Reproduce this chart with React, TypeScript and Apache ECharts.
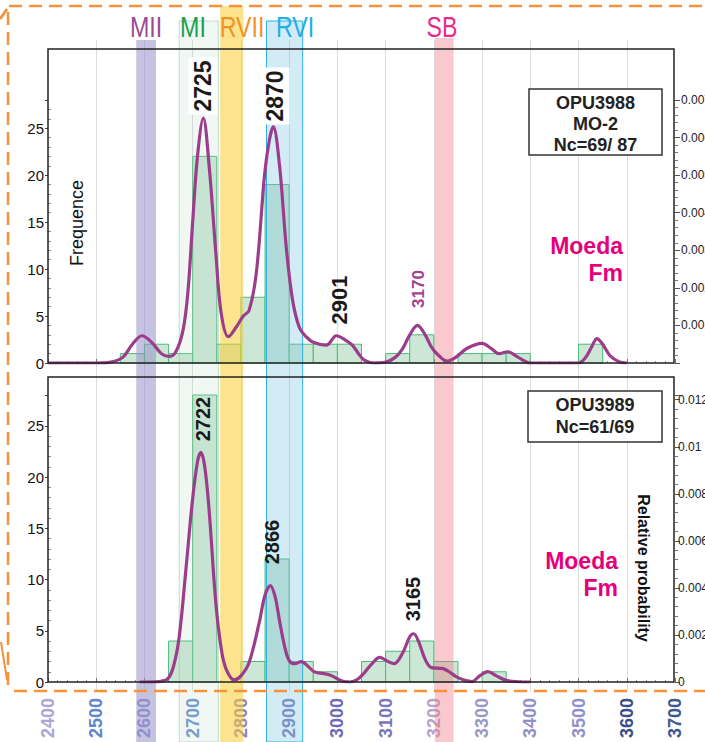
import React, { useEffect, useRef } from 'react';
import * as echarts from 'echarts';

const FONT = '"Liberation Sans", Arial, Helvetica, sans-serif';

// ---------- data ----------
const ageTicks = [2400, 2500, 2600, 2700, 2800, 2900, 3000, 3100, 3200, 3300, 3400, 3500, 3600, 3700];
const tickLabelColors = ['#aaa6d5', '#5b88cb', '#8f8fcc', '#6d93d0', '#8c82c4', '#7b79c0', '#6d6bb8', '#7977bc', '#b6a3cc', '#9a99c4', '#9290c6', '#8e92cc', '#3a4e88', '#3d5a8e'];

const BIN_WIDTH = 50;
const topBinStarts = [2550, 2600, 2650, 2700, 2750, 2800, 2850, 2900, 2950, 3000, 3100, 3150, 3250, 3300, 3350, 3500];
const topBinCounts = [1, 2, 1, 22, 2, 7, 19, 2, 2, 2, 1, 3, 1, 1, 1, 2];
const bottomBinStarts = [2650, 2700, 2800, 2850, 2900, 2950, 3050, 3100, 3150, 3200, 3300];
const bottomBinCounts = [4, 28, 2, 12, 2, 1, 2, 3, 4, 2, 1];

const topCurveAges = [2400, 2500, 2530, 2555, 2575, 2595, 2615, 2635, 2650, 2665, 2680, 2690, 2700, 2710, 2722, 2734, 2748, 2759, 2774, 2790, 2805, 2817, 2832, 2849, 2859, 2867, 2880, 2894, 2907, 2921, 2935, 2950, 2977, 2998, 3015, 3031, 3045, 3056, 3075, 3100, 3120, 3135, 3150, 3166, 3182, 3195, 3210, 3227, 3245, 3270, 3300, 3320, 3335, 3353, 3375, 3400, 3500, 3515, 3528, 3538, 3550, 3565, 3585, 3600];
const topCurveProb = [0, 0, 0.000025, 0.00015, 0.0005, 0.000725, 0.00055, 0.00025, 0.000175, 0.0003, 0.000875, 0.00188, 0.00376, 0.00551, 0.006515, 0.00526, 0.00293, 0.00133, 0.0007, 0.00095, 0.00125, 0.0014, 0.002405, 0.00501, 0.005935, 0.00629, 0.00526, 0.00308, 0.00168, 0.00095, 0.0007, 0.00055, 0.000475, 0.000725, 0.000625, 0.000475, 0.000225, 0.000075, 0, 0.000025, 0.00015, 0.000375, 0.00075, 0.001, 0.00075, 0.000425, 0.0002, 0.00005, 0.00015, 0.0004, 0.000525, 0.000375, 0.00025, 0.0003, 0.00015, 0, 0, 0.00015, 0.00045, 0.00065, 0.0005, 0.0002, 0.000025, 0];

const bottomCurveAges = [2590, 2630, 2648, 2660, 2672, 2686, 2699, 2710, 2717, 2725, 2734, 2748, 2760, 2770, 2786, 2800, 2817, 2838, 2850, 2861, 2871, 2880, 2890, 2900, 2912, 2925, 2940, 2952, 2984, 3010, 3025, 3040, 3052, 3070, 3088, 3105, 3118, 3135, 3150, 3158, 3168, 3182, 3195, 3219, 3235, 3247, 3265, 3279, 3295, 3312, 3330, 3350, 3375, 3400];
const bottomCurveProb = [0, 0.00002, 0.00013, 0.00065, 0.00192, 0.00479, 0.00762, 0.00937, 0.00976, 0.00915, 0.00732, 0.00335, 0.00131, 0.00052, 0.00009, 0.00026, 0.00083, 0.00253, 0.0037, 0.0041, 0.00362, 0.00261, 0.00157, 0.00091, 0.00078, 0.00087, 0.00065, 0.00044, 0.0003, 0.00004, 0, 0.00009, 0.0003, 0.00074, 0.00105, 0.00087, 0.00078, 0.00122, 0.00192, 0.00205, 0.00174, 0.00096, 0.00061, 0.00057, 0.00039, 0.00022, 0.00007, 0.00002, 0.00026, 0.00044, 0.00026, 0.00007, 0.00001, 0];

const bandNames = ['MII', 'MI', 'RVII', 'RVI', 'SB'];
const bandStart = [2583, 2672, 2757, 2853, 3202];
const bandEnd = [2624, 2753, 2805, 2928, 3241];

const topPeakLabels = ['2725', '2870', '2901', '3170'];
const bottomPeakLabels = ['2722', '2866', '3165'];

// ---------- styles ----------
const bandStyles: Record<string, any> = {
  MII: { top: 40, fill: 'rgba(150,145,200,0.55)', stroke: null, text: '#9b4b96', tx: 146 },
  MI: { top: 21, fill: 'rgba(170,215,190,0.17)', stroke: 'rgba(130,200,160,0.55)', text: '#1aa050', tx: 193 },
  RVII: { top: 6, fill: 'rgba(250,205,50,0.55)', stroke: null, text: '#f39222', tx: 242 },
  RVI: { top: 21, fill: 'rgba(120,195,225,0.33)', stroke: '#2aaee4', text: '#22aee6', tx: 295 },
  SB: { top: 38, fill: 'rgba(240,120,130,0.4)', stroke: null, text: '#ea2a8a', tx: 442 },
};

const peakLabelLayout: Record<string, any> = {
  '2725': { x: 203, y: 86, size: 23, bg: true, color: '#1a1a1a' },
  '2870': { x: 275, y: 96, size: 23, bg: true, color: '#1a1a1a' },
  '2901': { x: 339, y: 300, size: 22, bg: false, color: '#1a1a1a' },
  '3170': { x: 418, y: 289, size: 17, bg: false, color: '#a3418f' },
  '2722': { x: 203, y: 419, size: 20, bg: false, color: '#1a1a1a' },
  '2866': { x: 272, y: 542, size: 20, bg: false, color: '#1a1a1a' },
  '3165': { x: 413, y: 599, size: 20, bg: false, color: '#1a1a1a' },
};

const CURVE_COLOR = '#9c3d8c';
const BAR_FILL = '#cde7d6';
const BAR_STROKE = '#4cbb7b';
const ORANGE = '#f7923a';

function histSeries(starts: number[], counts: number[], xi: number, yi: number) {
  return {
    type: 'custom',
    xAxisIndex: xi,
    yAxisIndex: yi,
    z: 2,
    silent: true,
    data: starts.map((s, i) => [s, s + BIN_WIDTH, counts[i]]),
    encode: { x: [0, 1], y: 2 },
    renderItem: (params: any, api: any) => {
      const p0 = api.coord([api.value(0), 0]);
      const p1 = api.coord([api.value(1), api.value(2)]);
      return {
        type: 'rect',
        shape: { x: p0[0], y: p1[1], width: p1[0] - p0[0], height: p0[1] - p1[1] },
        style: { fill: BAR_FILL, stroke: BAR_STROKE, lineWidth: 1 },
      };
    },
  };
}

function curveSeries(ages: number[], probs: number[], xi: number, yi: number) {
  return {
    type: 'line',
    xAxisIndex: xi,
    yAxisIndex: yi,
    z: 5,
    silent: true,
    smooth: 0.35,
    showSymbol: false,
    symbol: 'none',
    data: ages.map((a, i) => [a, probs[i]]),
    lineStyle: { color: CURVE_COLOR, width: 3.2 },
  };
}

const xTickAxis = (gridIndex: number) => ({
  type: 'value',
  gridIndex,
  min: 2400,
  max: 3700,
  interval: 100,
  axisLine: { show: false },
  axisTick: { show: true, inside: true, length: 4, lineStyle: { color: '#777' } },
  minorTick: { show: true, splitNumber: 5, length: 2, lineStyle: { color: '#999' } },
  axisLabel: { show: false },
  splitLine: { show: false },
});

const leftCountAxis = (gridIndex: number) => ({
  type: 'value',
  gridIndex,
  position: 'left',
  min: 0,
  max: 28,
  interval: 5,
  axisLine: { show: false },
  axisTick: { show: true, length: 3, lineStyle: { color: '#444' } },
  axisLabel: {
    margin: 4,
    fontSize: 15,
    color: '#111',
    fontFamily: FONT,
    formatter: (v: number) => (v % 5 === 0 ? String(v) : ''),
  },
  splitLine: { show: false },
});

const leftMinorAxis = (gridIndex: number) => ({
  type: 'value',
  gridIndex,
  position: 'left',
  min: 0,
  max: 28,
  interval: 5,
  axisLine: { show: false },
  axisTick: { show: false, inside: true },
  minorTick: { show: true, splitNumber: 5, length: 3, lineStyle: { color: '#888' } },
  axisLabel: { show: false },
  splitLine: { show: false },
});

const rightProbAxis = (gridIndex: number, max: number, step: number, hideZero: boolean, margin: number) => ({
  type: 'value',
  gridIndex,
  position: 'right',
  min: 0,
  max,
  interval: step,
  axisLine: { show: false },
  axisTick: { show: true, length: 5, lineStyle: { color: '#555' } },
  minorTick: { show: true, splitNumber: 5, length: 3, lineStyle: { color: '#777' } },
  axisLabel: {
    margin,
    fontSize: 12,
    color: '#222',
    fontFamily: FONT,
    formatter: (v: number) => {
      const r = Math.round(v * 100000) / 100000;
      if (Math.abs(Math.round(r / step) * step - r) > 1e-7) return '';
      if (hideZero && r === 0) return '';
      return String(r);
    },
  },
  splitLine: { show: false },
});

const hiddenAxis = (gridIndex: number, isX: boolean) => ({
  type: 'value',
  gridIndex,
  show: false,
  min: isX ? 2400 : 0,
  max: isX ? 3700 : 1,
});

function buildOption() {
  const graphics: any[] = [];

  // band titles
  bandNames.forEach((n) => {
    const st = bandStyles[n];
    graphics.push({
      type: 'text',
      x: st.tx,
      y: 27,
      scaleX: 0.8,
      z: 12,
      silent: true,
      style: { text: n, fontSize: 29, fontFamily: FONT, fill: st.text, align: 'center', verticalAlign: 'middle' },
    });
  });

  // peak labels
  [...topPeakLabels, ...bottomPeakLabels].forEach((t) => {
    const l = peakLabelLayout[t];
    graphics.push({
      type: 'text',
      x: l.x,
      y: l.y,
      rotation: Math.PI / 2,
      z: 12,
      silent: true,
      style: {
        text: t,
        fontSize: l.size,
        fontWeight: 'bold',
        fontFamily: FONT,
        fill: l.color,
        align: 'center',
        verticalAlign: 'middle',
        backgroundColor: l.bg ? '#ffffff' : undefined,
        padding: l.bg ? [3, 3, 3, 3] : 0,
      },
    });
  });

  // axis titles
  graphics.push({
    type: 'text', x: 77, y: 223, rotation: Math.PI / 2, z: 12, silent: true,
    style: { text: 'Frequence', fontSize: 18, fontFamily: FONT, fill: '#111', align: 'center', verticalAlign: 'middle' },
  });
  graphics.push({
    type: 'text', x: 643, y: 568, rotation: -Math.PI / 2, z: 12, silent: true,
    style: { text: 'Relative probability', fontSize: 16, fontWeight: 'bold', fontFamily: FONT, fill: '#111', align: 'center', verticalAlign: 'middle' },
  });

  // sample boxes
  const box = (x: number, y: number, w: number, h: number, lines: string[], lineYs: number[]) => {
    graphics.push({
      type: 'rect', z: 12, silent: true,
      shape: { x, y, width: w, height: h },
      style: { fill: '#fff', stroke: '#333', lineWidth: 1.5 },
    });
    lines.forEach((t, i) => {
      graphics.push({
        type: 'text', x: x + w / 2, y: lineYs[i], z: 13, silent: true,
        style: { text: t, fontSize: 18, fontWeight: 'bold', fontFamily: FONT, fill: '#222', align: 'center', verticalAlign: 'middle' },
      });
    });
  };
  box(529, 89, 133, 66, ['OPU3988', 'MO-2', 'Nc=69/ 87'], [103, 124, 145]);
  box(528, 391, 134, 51, ['OPU3989', 'Nc=61/69'], [405, 427]);

  // formation names
  const fm = (x: number, y1: number, y2: number) => {
    graphics.push({
      type: 'text', x, y: y1, z: 12, silent: true,
      style: { text: 'Moeda', fontSize: 23, fontWeight: 'bold', fontFamily: FONT, fill: '#e4007c', align: 'right', verticalAlign: 'middle' },
    });
    graphics.push({
      type: 'text', x, y: y2, z: 12, silent: true,
      style: { text: 'Fm', fontSize: 23, fontWeight: 'bold', fontFamily: FONT, fill: '#e4007c', align: 'right', verticalAlign: 'middle' },
    });
  };
  fm(623, 246, 273);
  fm(618, 561, 588);

  // orange frame of the surrounding figure
  const dash = { stroke: ORANGE, lineWidth: 2.5, lineDash: [13, 7] };
  graphics.push({ type: 'line', z: 20, silent: true, shape: { x1: 9, y1: 6, x2: 705, y2: 6 }, style: dash });
  graphics.push({ type: 'line', z: 20, silent: true, shape: { x1: 8, y1: 12, x2: 8, y2: 691 }, style: dash });
  graphics.push({ type: 'line', z: 20, silent: true, shape: { x1: 14, y1: 691, x2: 705, y2: 691 }, style: dash });
  graphics.push({ type: 'polyline', z: 20, silent: true, shape: { points: [[0, 19], [7, 9]] }, style: { stroke: ORANGE, lineWidth: 3, fill: 'none' } });
  graphics.push({ type: 'polyline', z: 20, silent: true, shape: { points: [[1, 642], [7, 680]] }, style: { stroke: ORANGE, lineWidth: 2, fill: 'none' } });

  return {
    animation: false,
    backgroundColor: '#ffffff',
    textStyle: { fontFamily: FONT },
    grid: [
      { left: 48, right: 30, top: 100, height: 263, outerBoundsMode: 'none', containLabel: false },
      { left: 48, right: 30, top: 395, height: 287, outerBoundsMode: 'none', containLabel: false },
      { left: 48, right: 30, top: 40, height: 651, outerBoundsMode: 'none', containLabel: false },
      { left: 48, right: 31, top: 49, height: 314, show: true, borderColor: '#222', borderWidth: 1.5, backgroundColor: 'transparent', z: 8, outerBoundsMode: 'none', containLabel: false },
      { left: 48, right: 31, top: 377, height: 305, show: true, borderColor: '#222', borderWidth: 1.5, backgroundColor: 'transparent', z: 8, outerBoundsMode: 'none', containLabel: false },
    ],
    xAxis: [
      xTickAxis(0),
      xTickAxis(1),
      {
        type: 'value',
        gridIndex: 2,
        min: 2400,
        max: 3700,
        interval: 100,
        axisLine: { show: false },
        axisTick: { show: false },
        axisLabel: {
          rotate: 90,
          margin: 7,
          fontSize: 18,
          fontWeight: 'bold',
          fontFamily: FONT,
          formatter: (v: number) => String(v),
          color: (v: any) => tickLabelColors[ageTicks.indexOf(Number(v))] || '#777',
        },
        splitLine: { show: true, showMinLine: false, showMaxLine: false, lineStyle: { color: '#dcdcdc', width: 1 } },
      },
      hiddenAxis(3, true),
      hiddenAxis(4, true),
    ],
    yAxis: [
      leftCountAxis(0),
      rightProbAxis(0, 0.007, 0.001, true, 6),
      leftMinorAxis(0),
      leftCountAxis(1),
      rightProbAxis(1, 0.0122, 0.002, false, 3),
      leftMinorAxis(1),
      hiddenAxis(2, false),
      hiddenAxis(3, false),
      hiddenAxis(4, false),
    ],
    series: [
      histSeries(topBinStarts, topBinCounts, 0, 0),
      histSeries(bottomBinStarts, bottomBinCounts, 1, 3),
      {
        type: 'custom',
        xAxisIndex: 2,
        yAxisIndex: 6,
        z: 3,
        silent: true,
        data: bandNames.map((n, i) => [bandStart[i], bandEnd[i]]),
        encode: { x: [0, 1] },
        renderItem: (params: any, api: any) => {
          const st = bandStyles[bandNames[params.dataIndex]];
          const x0 = api.coord([api.value(0), 0])[0];
          const x1 = api.coord([api.value(1), 0])[0];
          const h = api.getHeight();
          return {
            type: 'rect',
            shape: { x: x0, y: st.top, width: x1 - x0, height: h - st.top },
            style: { fill: st.fill, stroke: st.stroke || 'none', lineWidth: st.stroke ? 1 : 0 },
          };
        },
      },
      curveSeries(topCurveAges, topCurveProb, 0, 1),
      curveSeries(bottomCurveAges, bottomCurveProb, 1, 4),
    ],
    graphic: { elements: graphics },
  };
}

export default function App() {
  const ref = useRef<HTMLDivElement>(null);
  useEffect(() => {
    if (!ref.current) return;
    const chart = echarts.init(ref.current, undefined, { renderer: 'svg' });
    chart.setOption(buildOption() as any);
    return () => chart.dispose();
  }, []);
  return <div ref={ref} style={{ position: 'absolute', left: 0, top: 0, width: 705, height: 742 }} />;
}
